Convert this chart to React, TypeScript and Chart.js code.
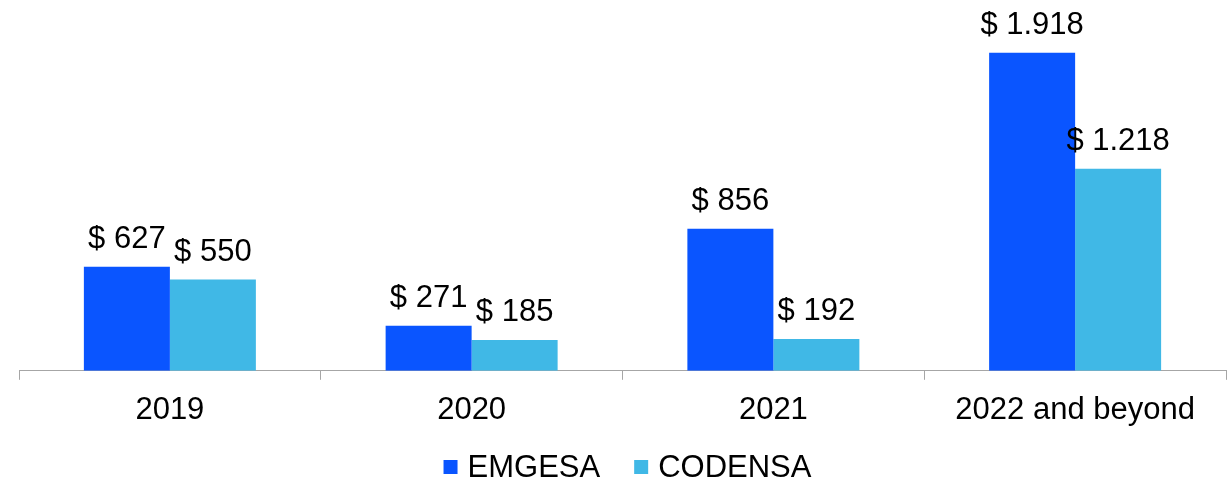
import React, { useEffect, useRef } from "react";
import { Chart, registerables } from "chart.js";

Chart.register(...registerables);

const categories = ["2019", "2020", "2021", "2022 and beyond"];
const emgesa = [627, 271, 856, 1918];
const codensa = [550, 185, 192, 1218];
const seriesNames = ["EMGESA", "CODENSA"];
const seriesColors = ["#0A55FF", "#40B8E6"];

const FONT = "'Liberation Sans', Arial, sans-serif";
const FONT_SIZE = 31;

function fmt(v: number): string {
  return "$ " + v.toLocaleString("de-DE");
}

const valueLabels = {
  id: "valueLabels",
  afterDatasetsDraw(chart: any) {
    const ctx = chart.ctx;
    ctx.save();
    ctx.font = `${FONT_SIZE}px ${FONT}`;
    ctx.fillStyle = "#000";
    ctx.textAlign = "center";
    ctx.textBaseline = "alphabetic";
    chart.data.datasets.forEach((ds: any, di: number) => {
      const meta = chart.getDatasetMeta(di);
      meta.data.forEach((bar: any, i: number) => {
        ctx.fillText(fmt(ds.data[i]), bar.x, bar.y - 19);
      });
    });
    ctx.restore();
  },
};

const customLegend = {
  id: "customLegend",
  afterDraw(chart: any) {
    const ctx = chart.ctx;
    const box = 14;
    const gap = 10;
    const spacing = 34;
    ctx.save();
    ctx.font = `${FONT_SIZE}px ${FONT}`;
    const items = chart.data.datasets.map((ds: any) => ({
      text: ds.label,
      color: ds.backgroundColor,
      w: ctx.measureText(ds.label).width,
    }));
    const total =
      items.reduce((s: number, it: any) => s + box + gap + it.w, 0) + spacing * (items.length - 1);
    const center = (chart.chartArea.left + chart.chartArea.right) / 2 + 5;
    let x = center - total / 2;
    const baseline = 477;
    ctx.textAlign = "left";
    ctx.textBaseline = "alphabetic";
    items.forEach((it: any) => {
      ctx.fillStyle = it.color;
      ctx.fillRect(x, baseline - 17, box, box);
      x += box + gap;
      ctx.fillStyle = "#000";
      ctx.fillText(it.text, x, baseline);
      x += it.w + spacing;
    });
    ctx.restore();
  },
};

export default function App() {
  const ref = useRef<HTMLCanvasElement>(null);
  useEffect(() => {
    const chart = new Chart(ref.current!, {
      type: "bar",
      data: {
        labels: categories,
        datasets: [
          { label: seriesNames[0], data: emgesa, backgroundColor: seriesColors[0] },
          { label: seriesNames[1], data: codensa, backgroundColor: seriesColors[1] },
        ],
      },
      options: {
        animation: false,
        responsive: false,
        maintainAspectRatio: false,
        layout: { padding: { left: 19, right: 1, top: 6, bottom: 43 } },
        datasets: { bar: { categoryPercentage: 0.57, barPercentage: 1 } },
        scales: {
          x: {
            grid: {
              drawOnChartArea: false,
              drawTicks: true,
              tickLength: 9,
              color: "#A6A6A6",
              offset: true,
            },
            border: { color: "#A6A6A6", width: 1 },
            ticks: { color: "#000", font: { family: FONT, size: FONT_SIZE }, padding: 12 },
          },
          y: { display: false, min: 0, max: 2200 },
        },
        plugins: {
          legend: { display: false },
          tooltip: { enabled: false },
        },
      },
      plugins: [valueLabels, customLegend],
    });
    return () => chart.destroy();
  }, []);
  return (
    <div style={{ position: "fixed", left: 0, top: 0, width: 1227, height: 484, background: "#fff" }}>
      <canvas ref={ref} width={1227} height={484} />
    </div>
  );
}
